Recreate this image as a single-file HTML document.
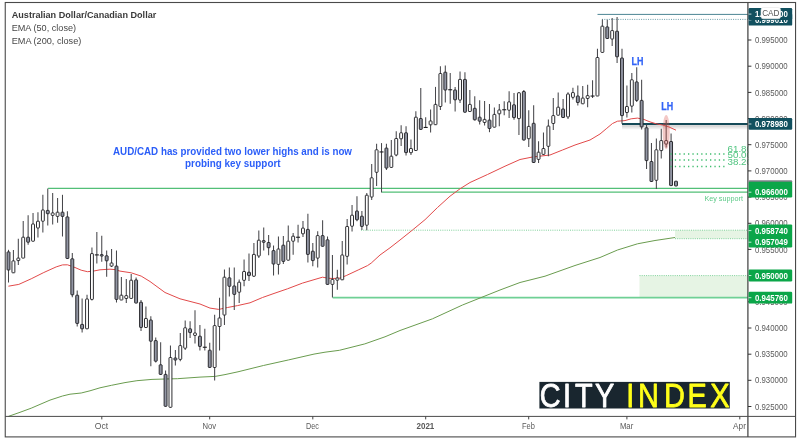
<!DOCTYPE html>
<html lang="en"><head><meta charset="utf-8"><title>AUD/CAD chart</title>
<style>html,body{margin:0;padding:0;background:#fff;}body{width:800px;height:442px;overflow:hidden;}svg{display:block;font-family:"Liberation Sans", Arial, sans-serif;}</style>
</head><body>
<svg width="800" height="442" viewBox="0 0 800 442">
<rect width="800" height="442" fill="#fff"/>
<g id="zones">
<rect x="675" y="230.2" width="73" height="8.5" fill="#e6f4e4"/>
<rect x="639.5" y="275.6" width="108.5" height="21.5" fill="#e6f4e4"/>
<line x1="361" y1="230.2" x2="748" y2="230.2" stroke="#7fd09a" stroke-width="1" stroke-dasharray="1 1.2"/>
<line x1="675" y1="238.7" x2="748" y2="238.7" stroke="#7fd09a" stroke-width="1" stroke-dasharray="1 1.2"/>
<line x1="639.5" y1="275.6" x2="748" y2="275.6" stroke="#7fd09a" stroke-width="1" stroke-dasharray="1 1.2"/>
</g>
<g id="support" fill="none">
<line x1="48.1" y1="188.4" x2="748" y2="188.4" stroke="#52bf77" stroke-width="1.25"/>
<line x1="381.9" y1="192" x2="748" y2="192" stroke="#52bf77" stroke-width="1.25"/>
<line x1="332.7" y1="297.6" x2="748" y2="297.6" stroke="#6fd095" stroke-width="1.6"/>
</g>
<g id="teal">
<line x1="597.5" y1="14.4" x2="748" y2="14.4" stroke="#4c8593" stroke-width="1"/>
<line x1="602" y1="19.4" x2="748" y2="19.4" stroke="#5a909d" stroke-width="0.9" stroke-dasharray="1 1.3"/>
<rect x="622" y="125" width="126" height="4.2" fill="#000" opacity="0.06"/>
<rect x="622" y="125" width="126" height="2.4" fill="#000" opacity="0.09"/>
<line x1="622" y1="124" x2="748" y2="124" stroke="#154a58" stroke-width="2.1"/>
</g>
<path d="M8.4 416.4 L20.0 412.3 L31.2 408.2 L40.0 404.4 L50.0 400.1 L62.5 396.0 L70.0 394.2 L81.2 393.0 L90.0 390.8 L100.0 387.8 L111.5 385.3 L125.0 382.6 L136.9 380.7 L152.0 379.4 L165.0 379.0 L177.4 378.7 L190.0 377.8 L200.0 377.1 L215.2 376.4 L225.0 374.6 L238.0 371.8 L263.4 365.5 L288.7 359.9 L314.0 354.1 L325.0 352.2 L339.4 350.3 L364.8 343.9 L385.0 336.8 L400.0 330.5 L432.5 318.8 L462.5 305.0 L480.0 298.0 L500.0 290.0 L520.0 282.5 L545.0 276.2 L575.0 265.5 L600.0 257.5 L617.5 250.0 L637.5 243.8 L655.0 240.5 L675.0 237.5" fill="none" stroke="#6a9c4f" stroke-width="1" stroke-linejoin="round"/>
<path d="M8.4 286.2 L18.8 284.4 L31.2 278.8 L43.8 272.5 L56.2 266.9 L62.5 264.9 L67.5 264.8 L75.0 267.5 L81.2 270.2 L87.5 271.7 L93.8 271.0 L100.0 269.8 L110.0 269.2 L115.0 269.6 L120.0 271.1 L131.2 272.8 L141.2 276.1 L150.0 281.5 L165.0 292.5 L180.0 298.8 L200.0 304.0 L210.0 308.1 L218.8 309.4 L227.5 307.5 L237.5 305.6 L250.0 302.8 L262.5 297.5 L275.0 293.1 L287.5 288.8 L302.5 283.1 L315.0 279.4 L322.5 277.2 L328.0 278.2 L332.5 278.5 L340.0 278.1 L346.2 275.6 L358.8 269.7 L367.5 265.6 L371.2 263.1 L380.0 255.0 L390.0 247.8 L400.0 240.0 L412.5 230.0 L425.0 219.7 L437.5 207.5 L450.0 196.2 L460.0 188.8 L470.0 182.5 L487.5 174.5 L505.0 166.2 L520.0 159.5 L532.5 157.0 L550.0 155.0 L562.5 150.0 L575.0 145.0 L590.0 140.0 L600.0 134.0 L606.2 128.8 L612.5 123.5 L617.5 121.2 L625.0 120.6 L631.2 118.8 L637.5 118.1 L643.8 119.4 L650.0 121.9 L656.2 123.8 L662.5 125.0 L668.8 126.9 L676.0 130.2" fill="none" stroke="#e24a4a" stroke-width="1" stroke-linejoin="round"/>
<g id="candles">
<line x1="8.50" y1="249.8" x2="8.50" y2="282.5" stroke="#47474b" stroke-width="1.05"/>
<rect x="7.05" y="251.9" width="2.9" height="18.1" rx="0.5" fill="#9296a4" stroke="#222226" stroke-width="0.95"/>
<line x1="13.41" y1="250.0" x2="13.41" y2="272.8" stroke="#47474b" stroke-width="1.05"/>
<rect x="11.96" y="260.9" width="2.9" height="11.9" rx="0.5" fill="#fff" stroke="#222226" stroke-width="0.95"/>
<line x1="18.32" y1="238.8" x2="18.32" y2="265.0" stroke="#47474b" stroke-width="1.05"/>
<rect x="16.87" y="258.1" width="2.9" height="2.5" rx="0.5" fill="#fff" stroke="#222226" stroke-width="0.95"/>
<line x1="23.22" y1="221.0" x2="23.22" y2="258.1" stroke="#47474b" stroke-width="1.05"/>
<rect x="21.77" y="237.2" width="2.9" height="20.9" rx="0.5" fill="#fff" stroke="#222226" stroke-width="0.95"/>
<line x1="28.13" y1="215.2" x2="28.13" y2="244.8" stroke="#47474b" stroke-width="1.05"/>
<rect x="26.68" y="237.2" width="2.9" height="5.0" rx="0.5" fill="#9296a4" stroke="#222226" stroke-width="0.95"/>
<line x1="33.04" y1="213.0" x2="33.04" y2="241.2" stroke="#47474b" stroke-width="1.05"/>
<rect x="31.59" y="224.0" width="2.9" height="17.2" rx="0.5" fill="#fff" stroke="#222226" stroke-width="0.95"/>
<line x1="37.95" y1="212.2" x2="37.95" y2="237.5" stroke="#47474b" stroke-width="1.05"/>
<rect x="36.50" y="221.2" width="2.9" height="6.8" rx="0.5" fill="#fff" stroke="#222226" stroke-width="0.95"/>
<line x1="42.86" y1="194.8" x2="42.86" y2="232.5" stroke="#47474b" stroke-width="1.05"/>
<rect x="41.41" y="210.0" width="2.9" height="11.2" rx="0.5" fill="#fff" stroke="#222226" stroke-width="0.95"/>
<line x1="47.76" y1="188.5" x2="47.76" y2="225.6" stroke="#47474b" stroke-width="1.05"/>
<rect x="46.31" y="210.4" width="2.9" height="3.3" rx="0.5" fill="#9296a4" stroke="#222226" stroke-width="0.95"/>
<line x1="52.67" y1="193.1" x2="52.67" y2="224.4" stroke="#47474b" stroke-width="1.05"/>
<rect x="51.22" y="212.9" width="2.9" height="2.5" rx="0.5" fill="#fff" stroke="#222226" stroke-width="0.95"/>
<line x1="57.58" y1="198.1" x2="57.58" y2="222.8" stroke="#47474b" stroke-width="1.05"/>
<rect x="56.13" y="212.2" width="2.9" height="4.2" rx="0.5" fill="#fff" stroke="#222226" stroke-width="0.95"/>
<line x1="62.49" y1="194.8" x2="62.49" y2="236.5" stroke="#47474b" stroke-width="1.05"/>
<rect x="61.04" y="212.2" width="2.9" height="4.2" rx="0.5" fill="#9296a4" stroke="#222226" stroke-width="0.95"/>
<line x1="67.40" y1="211.2" x2="67.40" y2="258.5" stroke="#47474b" stroke-width="1.05"/>
<rect x="65.95" y="216.9" width="2.9" height="41.6" rx="0.5" fill="#9296a4" stroke="#222226" stroke-width="0.95"/>
<line x1="72.30" y1="253.1" x2="72.30" y2="297.2" stroke="#47474b" stroke-width="1.05"/>
<rect x="70.85" y="258.8" width="2.9" height="36.0" rx="0.5" fill="#9296a4" stroke="#222226" stroke-width="0.95"/>
<line x1="77.21" y1="290.6" x2="77.21" y2="326.5" stroke="#47474b" stroke-width="1.05"/>
<rect x="75.76" y="295.2" width="2.9" height="28.2" rx="0.5" fill="#9296a4" stroke="#222226" stroke-width="0.95"/>
<line x1="82.12" y1="298.5" x2="82.12" y2="332.5" stroke="#47474b" stroke-width="1.05"/>
<rect x="80.67" y="324.4" width="2.9" height="4.4" rx="0.5" fill="#9296a4" stroke="#222226" stroke-width="0.95"/>
<line x1="87.03" y1="294.8" x2="87.03" y2="328.8" stroke="#47474b" stroke-width="1.05"/>
<rect x="85.58" y="299.0" width="2.9" height="29.8" rx="0.5" fill="#fff" stroke="#222226" stroke-width="0.95"/>
<line x1="91.94" y1="247.4" x2="91.94" y2="300.6" stroke="#47474b" stroke-width="1.05"/>
<rect x="90.49" y="253.6" width="2.9" height="45.8" rx="0.5" fill="#fff" stroke="#222226" stroke-width="0.95"/>
<line x1="96.84" y1="232.0" x2="96.84" y2="263.6" stroke="#47474b" stroke-width="1.05"/>
<rect x="94.84" y="254.35" width="4.0" height="1.1" fill="#1c1c20"/>
<line x1="101.75" y1="235.8" x2="101.75" y2="261.8" stroke="#47474b" stroke-width="1.05"/>
<rect x="100.30" y="254.6" width="2.9" height="1.4" rx="0.5" fill="#9296a4" stroke="#222226" stroke-width="0.95"/>
<line x1="106.66" y1="250.5" x2="106.66" y2="276.8" stroke="#47474b" stroke-width="1.05"/>
<rect x="105.21" y="255.8" width="2.9" height="5.0" rx="0.5" fill="#9296a4" stroke="#222226" stroke-width="0.95"/>
<line x1="111.57" y1="249.0" x2="111.57" y2="267.0" stroke="#47474b" stroke-width="1.05"/>
<rect x="110.12" y="263.0" width="2.9" height="3.1" rx="0.5" fill="#fff" stroke="#222226" stroke-width="0.95"/>
<line x1="116.48" y1="250.5" x2="116.48" y2="302.5" stroke="#47474b" stroke-width="1.05"/>
<rect x="115.03" y="266.1" width="2.9" height="33.3" rx="0.5" fill="#9296a4" stroke="#222226" stroke-width="0.95"/>
<line x1="121.38" y1="277.0" x2="121.38" y2="300.0" stroke="#47474b" stroke-width="1.05"/>
<rect x="119.93" y="295.2" width="2.9" height="4.8" rx="0.5" fill="#fff" stroke="#222226" stroke-width="0.95"/>
<line x1="126.29" y1="279.0" x2="126.29" y2="303.0" stroke="#47474b" stroke-width="1.05"/>
<rect x="124.84" y="295.6" width="2.9" height="2.9" rx="0.5" fill="#fff" stroke="#222226" stroke-width="0.95"/>
<line x1="131.20" y1="274.0" x2="131.20" y2="298.5" stroke="#47474b" stroke-width="1.05"/>
<rect x="129.75" y="280.2" width="2.9" height="18.2" rx="0.5" fill="#fff" stroke="#222226" stroke-width="0.95"/>
<line x1="136.11" y1="277.4" x2="136.11" y2="303.1" stroke="#47474b" stroke-width="1.05"/>
<rect x="134.66" y="279.9" width="2.9" height="23.2" rx="0.5" fill="#9296a4" stroke="#222226" stroke-width="0.95"/>
<line x1="141.02" y1="300.0" x2="141.02" y2="331.0" stroke="#47474b" stroke-width="1.05"/>
<rect x="139.57" y="302.2" width="2.9" height="25.2" rx="0.5" fill="#9296a4" stroke="#222226" stroke-width="0.95"/>
<line x1="145.92" y1="306.5" x2="145.92" y2="327.5" stroke="#47474b" stroke-width="1.05"/>
<rect x="144.47" y="318.5" width="2.9" height="9.0" rx="0.5" fill="#fff" stroke="#222226" stroke-width="0.95"/>
<line x1="150.83" y1="316.2" x2="150.83" y2="366.2" stroke="#47474b" stroke-width="1.05"/>
<rect x="149.38" y="320.0" width="2.9" height="21.2" rx="0.5" fill="#9296a4" stroke="#222226" stroke-width="0.95"/>
<line x1="155.74" y1="337.5" x2="155.74" y2="362.5" stroke="#47474b" stroke-width="1.05"/>
<rect x="154.29" y="340.6" width="2.9" height="20.6" rx="0.5" fill="#9296a4" stroke="#222226" stroke-width="0.95"/>
<line x1="160.65" y1="342.2" x2="160.65" y2="375.0" stroke="#47474b" stroke-width="1.05"/>
<rect x="159.20" y="364.8" width="2.9" height="9.6" rx="0.5" fill="#9296a4" stroke="#222226" stroke-width="0.95"/>
<line x1="165.56" y1="370.6" x2="165.56" y2="406.5" stroke="#47474b" stroke-width="1.05"/>
<rect x="164.11" y="374.4" width="2.9" height="31.9" rx="0.5" fill="#9296a4" stroke="#222226" stroke-width="0.95"/>
<line x1="170.46" y1="345.6" x2="170.46" y2="407.5" stroke="#47474b" stroke-width="1.05"/>
<rect x="169.01" y="357.5" width="2.9" height="49.8" rx="0.5" fill="#fff" stroke="#222226" stroke-width="0.95"/>
<line x1="175.37" y1="350.0" x2="175.37" y2="365.6" stroke="#47474b" stroke-width="1.05"/>
<rect x="173.92" y="358.0" width="2.9" height="2.0" rx="0.5" fill="#9296a4" stroke="#222226" stroke-width="0.95"/>
<line x1="180.28" y1="333.0" x2="180.28" y2="361.2" stroke="#47474b" stroke-width="1.05"/>
<rect x="178.83" y="345.6" width="2.9" height="13.8" rx="0.5" fill="#fff" stroke="#222226" stroke-width="0.95"/>
<line x1="185.19" y1="320.6" x2="185.19" y2="350.0" stroke="#47474b" stroke-width="1.05"/>
<rect x="183.74" y="327.8" width="2.9" height="20.4" rx="0.5" fill="#fff" stroke="#222226" stroke-width="0.95"/>
<line x1="190.10" y1="321.2" x2="190.10" y2="338.0" stroke="#47474b" stroke-width="1.05"/>
<rect x="188.65" y="328.8" width="2.9" height="3.8" rx="0.5" fill="#9296a4" stroke="#222226" stroke-width="0.95"/>
<line x1="195.00" y1="310.2" x2="195.00" y2="343.5" stroke="#47474b" stroke-width="1.05"/>
<rect x="193.55" y="333.0" width="2.9" height="2.4" rx="0.5" fill="#fff" stroke="#222226" stroke-width="0.95"/>
<line x1="199.91" y1="325.0" x2="199.91" y2="350.6" stroke="#47474b" stroke-width="1.05"/>
<rect x="198.46" y="336.2" width="2.9" height="10.2" rx="0.5" fill="#9296a4" stroke="#222226" stroke-width="0.95"/>
<line x1="204.82" y1="328.8" x2="204.82" y2="350.6" stroke="#47474b" stroke-width="1.05"/>
<rect x="202.82" y="346.70" width="4.0" height="1.1" fill="#1c1c20"/>
<line x1="209.73" y1="342.8" x2="209.73" y2="368.0" stroke="#47474b" stroke-width="1.05"/>
<rect x="208.28" y="350.2" width="2.9" height="17.2" rx="0.5" fill="#9296a4" stroke="#222226" stroke-width="0.95"/>
<line x1="214.64" y1="314.8" x2="214.64" y2="380.6" stroke="#47474b" stroke-width="1.05"/>
<rect x="213.19" y="325.6" width="2.9" height="41.9" rx="0.5" fill="#fff" stroke="#222226" stroke-width="0.95"/>
<line x1="219.54" y1="297.8" x2="219.54" y2="350.6" stroke="#47474b" stroke-width="1.05"/>
<rect x="218.09" y="318.0" width="2.9" height="8.5" rx="0.5" fill="#fff" stroke="#222226" stroke-width="0.95"/>
<line x1="224.45" y1="269.4" x2="224.45" y2="325.0" stroke="#47474b" stroke-width="1.05"/>
<rect x="223.00" y="277.2" width="2.9" height="37.8" rx="0.5" fill="#fff" stroke="#222226" stroke-width="0.95"/>
<line x1="229.36" y1="267.5" x2="229.36" y2="296.5" stroke="#47474b" stroke-width="1.05"/>
<rect x="227.91" y="277.8" width="2.9" height="8.5" rx="0.5" fill="#9296a4" stroke="#222226" stroke-width="0.95"/>
<line x1="234.27" y1="267.5" x2="234.27" y2="310.0" stroke="#47474b" stroke-width="1.05"/>
<rect x="232.82" y="286.0" width="2.9" height="8.4" rx="0.5" fill="#9296a4" stroke="#222226" stroke-width="0.95"/>
<line x1="239.18" y1="279.4" x2="239.18" y2="303.0" stroke="#47474b" stroke-width="1.05"/>
<rect x="237.73" y="282.2" width="2.9" height="10.0" rx="0.5" fill="#fff" stroke="#222226" stroke-width="0.95"/>
<line x1="244.08" y1="259.4" x2="244.08" y2="286.2" stroke="#47474b" stroke-width="1.05"/>
<rect x="242.63" y="271.5" width="2.9" height="8.8" rx="0.5" fill="#fff" stroke="#222226" stroke-width="0.95"/>
<line x1="248.99" y1="253.5" x2="248.99" y2="281.0" stroke="#47474b" stroke-width="1.05"/>
<rect x="247.54" y="272.2" width="2.9" height="3.4" rx="0.5" fill="#9296a4" stroke="#222226" stroke-width="0.95"/>
<line x1="253.90" y1="243.1" x2="253.90" y2="277.0" stroke="#47474b" stroke-width="1.05"/>
<rect x="252.45" y="254.4" width="2.9" height="21.8" rx="0.5" fill="#fff" stroke="#222226" stroke-width="0.95"/>
<line x1="258.81" y1="230.6" x2="258.81" y2="258.0" stroke="#47474b" stroke-width="1.05"/>
<rect x="257.36" y="240.2" width="2.9" height="15.8" rx="0.5" fill="#fff" stroke="#222226" stroke-width="0.95"/>
<line x1="263.72" y1="227.5" x2="263.72" y2="250.6" stroke="#47474b" stroke-width="1.05"/>
<rect x="262.27" y="240.6" width="2.9" height="1.7" rx="0.5" fill="#9296a4" stroke="#222226" stroke-width="0.95"/>
<line x1="268.62" y1="235.0" x2="268.62" y2="255.2" stroke="#47474b" stroke-width="1.05"/>
<rect x="267.17" y="242.5" width="2.9" height="5.2" rx="0.5" fill="#9296a4" stroke="#222226" stroke-width="0.95"/>
<line x1="273.53" y1="245.6" x2="273.53" y2="275.6" stroke="#47474b" stroke-width="1.05"/>
<rect x="272.08" y="250.6" width="2.9" height="13.4" rx="0.5" fill="#9296a4" stroke="#222226" stroke-width="0.95"/>
<line x1="278.44" y1="236.5" x2="278.44" y2="274.4" stroke="#47474b" stroke-width="1.05"/>
<rect x="276.99" y="249.0" width="2.9" height="15.4" rx="0.5" fill="#fff" stroke="#222226" stroke-width="0.95"/>
<line x1="283.35" y1="236.0" x2="283.35" y2="264.0" stroke="#47474b" stroke-width="1.05"/>
<rect x="281.90" y="245.2" width="2.9" height="16.2" rx="0.5" fill="#9296a4" stroke="#222226" stroke-width="0.95"/>
<line x1="288.26" y1="225.6" x2="288.26" y2="260.2" stroke="#47474b" stroke-width="1.05"/>
<rect x="286.81" y="241.2" width="2.9" height="19.0" rx="0.5" fill="#fff" stroke="#222226" stroke-width="0.95"/>
<line x1="293.16" y1="233.1" x2="293.16" y2="254.8" stroke="#47474b" stroke-width="1.05"/>
<rect x="291.71" y="236.2" width="2.9" height="5.0" rx="0.5" fill="#fff" stroke="#222226" stroke-width="0.95"/>
<line x1="298.07" y1="224.8" x2="298.07" y2="242.5" stroke="#47474b" stroke-width="1.05"/>
<rect x="296.07" y="236.70" width="4.0" height="1.1" fill="#1c1c20"/>
<line x1="302.98" y1="221.0" x2="302.98" y2="236.9" stroke="#47474b" stroke-width="1.05"/>
<rect x="301.53" y="228.1" width="2.9" height="5.7" rx="0.5" fill="#fff" stroke="#222226" stroke-width="0.95"/>
<line x1="307.89" y1="213.8" x2="307.89" y2="262.5" stroke="#47474b" stroke-width="1.05"/>
<rect x="306.44" y="229.4" width="2.9" height="25.0" rx="0.5" fill="#9296a4" stroke="#222226" stroke-width="0.95"/>
<line x1="312.80" y1="243.1" x2="312.80" y2="266.2" stroke="#47474b" stroke-width="1.05"/>
<rect x="311.35" y="251.2" width="2.9" height="9.4" rx="0.5" fill="#9296a4" stroke="#222226" stroke-width="0.95"/>
<line x1="317.70" y1="231.2" x2="317.70" y2="267.5" stroke="#47474b" stroke-width="1.05"/>
<rect x="316.25" y="235.6" width="2.9" height="22.5" rx="0.5" fill="#fff" stroke="#222226" stroke-width="0.95"/>
<line x1="322.61" y1="220.2" x2="322.61" y2="246.2" stroke="#47474b" stroke-width="1.05"/>
<rect x="321.16" y="235.6" width="2.9" height="10.7" rx="0.5" fill="#9296a4" stroke="#222226" stroke-width="0.95"/>
<line x1="327.52" y1="236.5" x2="327.52" y2="284.4" stroke="#47474b" stroke-width="1.05"/>
<rect x="326.07" y="239.8" width="2.9" height="44.6" rx="0.5" fill="#9296a4" stroke="#222226" stroke-width="0.95"/>
<line x1="332.43" y1="255.0" x2="332.43" y2="297.5" stroke="#47474b" stroke-width="1.05"/>
<rect x="330.98" y="279.4" width="2.9" height="5.0" rx="0.5" fill="#fff" stroke="#222226" stroke-width="0.95"/>
<line x1="337.34" y1="269.8" x2="337.34" y2="289.8" stroke="#47474b" stroke-width="1.05"/>
<rect x="335.89" y="278.0" width="2.9" height="2.2" rx="0.5" fill="#fff" stroke="#222226" stroke-width="0.95"/>
<line x1="342.24" y1="241.0" x2="342.24" y2="279.8" stroke="#47474b" stroke-width="1.05"/>
<rect x="340.79" y="255.0" width="2.9" height="24.8" rx="0.5" fill="#fff" stroke="#222226" stroke-width="0.95"/>
<line x1="347.15" y1="219.0" x2="347.15" y2="264.4" stroke="#47474b" stroke-width="1.05"/>
<rect x="345.70" y="226.5" width="2.9" height="29.8" rx="0.5" fill="#fff" stroke="#222226" stroke-width="0.95"/>
<line x1="352.06" y1="205.0" x2="352.06" y2="231.5" stroke="#47474b" stroke-width="1.05"/>
<rect x="350.61" y="215.2" width="2.9" height="11.0" rx="0.5" fill="#fff" stroke="#222226" stroke-width="0.95"/>
<line x1="356.97" y1="196.2" x2="356.97" y2="221.2" stroke="#47474b" stroke-width="1.05"/>
<rect x="355.52" y="211.0" width="2.9" height="8.8" rx="0.5" fill="#9296a4" stroke="#222226" stroke-width="0.95"/>
<line x1="361.88" y1="211.0" x2="361.88" y2="230.0" stroke="#47474b" stroke-width="1.05"/>
<rect x="360.43" y="216.2" width="2.9" height="10.2" rx="0.5" fill="#9296a4" stroke="#222226" stroke-width="0.95"/>
<line x1="366.78" y1="193.1" x2="366.78" y2="230.2" stroke="#47474b" stroke-width="1.05"/>
<rect x="365.33" y="195.2" width="2.9" height="30.0" rx="0.5" fill="#fff" stroke="#222226" stroke-width="0.95"/>
<line x1="371.69" y1="164.0" x2="371.69" y2="200.0" stroke="#47474b" stroke-width="1.05"/>
<rect x="370.24" y="177.8" width="2.9" height="19.2" rx="0.5" fill="#fff" stroke="#222226" stroke-width="0.95"/>
<line x1="376.60" y1="143.8" x2="376.60" y2="186.0" stroke="#47474b" stroke-width="1.05"/>
<rect x="375.15" y="149.8" width="2.9" height="22.5" rx="0.5" fill="#fff" stroke="#222226" stroke-width="0.95"/>
<line x1="381.51" y1="143.1" x2="381.51" y2="192.5" stroke="#47474b" stroke-width="1.05"/>
<rect x="379.51" y="151.40" width="4.0" height="1.1" fill="#1c1c20"/>
<line x1="386.42" y1="143.8" x2="386.42" y2="170.0" stroke="#47474b" stroke-width="1.05"/>
<rect x="384.97" y="148.1" width="2.9" height="20.0" rx="0.5" fill="#9296a4" stroke="#222226" stroke-width="0.95"/>
<line x1="391.32" y1="140.0" x2="391.32" y2="167.5" stroke="#47474b" stroke-width="1.05"/>
<rect x="389.87" y="156.2" width="2.9" height="11.2" rx="0.5" fill="#fff" stroke="#222226" stroke-width="0.95"/>
<line x1="396.23" y1="131.2" x2="396.23" y2="156.2" stroke="#47474b" stroke-width="1.05"/>
<rect x="394.78" y="138.5" width="2.9" height="16.5" rx="0.5" fill="#fff" stroke="#222226" stroke-width="0.95"/>
<line x1="401.14" y1="125.2" x2="401.14" y2="146.0" stroke="#47474b" stroke-width="1.05"/>
<rect x="399.69" y="132.8" width="2.9" height="6.0" rx="0.5" fill="#fff" stroke="#222226" stroke-width="0.95"/>
<line x1="406.05" y1="126.2" x2="406.05" y2="155.6" stroke="#47474b" stroke-width="1.05"/>
<rect x="404.60" y="132.8" width="2.9" height="19.8" rx="0.5" fill="#9296a4" stroke="#222226" stroke-width="0.95"/>
<line x1="410.96" y1="139.4" x2="410.96" y2="155.0" stroke="#47474b" stroke-width="1.05"/>
<rect x="409.51" y="148.5" width="2.9" height="4.2" rx="0.5" fill="#fff" stroke="#222226" stroke-width="0.95"/>
<line x1="415.86" y1="111.2" x2="415.86" y2="150.6" stroke="#47474b" stroke-width="1.05"/>
<rect x="414.41" y="117.2" width="2.9" height="33.3" rx="0.5" fill="#fff" stroke="#222226" stroke-width="0.95"/>
<line x1="420.77" y1="88.1" x2="420.77" y2="129.4" stroke="#47474b" stroke-width="1.05"/>
<rect x="419.32" y="118.5" width="2.9" height="10.9" rx="0.5" fill="#9296a4" stroke="#222226" stroke-width="0.95"/>
<line x1="425.68" y1="117.2" x2="425.68" y2="127.8" stroke="#47474b" stroke-width="1.05"/>
<rect x="423.68" y="126.90" width="4.0" height="1.1" fill="#1c1c20"/>
<line x1="430.59" y1="109.4" x2="430.59" y2="132.5" stroke="#47474b" stroke-width="1.05"/>
<rect x="429.14" y="121.0" width="2.9" height="3.8" rx="0.5" fill="#fff" stroke="#222226" stroke-width="0.95"/>
<line x1="435.50" y1="86.9" x2="435.50" y2="124.8" stroke="#47474b" stroke-width="1.05"/>
<rect x="434.05" y="104.4" width="2.9" height="20.3" rx="0.5" fill="#fff" stroke="#222226" stroke-width="0.95"/>
<line x1="440.40" y1="66.2" x2="440.40" y2="110.0" stroke="#47474b" stroke-width="1.05"/>
<rect x="438.95" y="73.5" width="2.9" height="33.0" rx="0.5" fill="#fff" stroke="#222226" stroke-width="0.95"/>
<line x1="445.31" y1="65.6" x2="445.31" y2="102.5" stroke="#47474b" stroke-width="1.05"/>
<rect x="443.86" y="72.2" width="2.9" height="17.8" rx="0.5" fill="#9296a4" stroke="#222226" stroke-width="0.95"/>
<line x1="450.22" y1="73.1" x2="450.22" y2="103.8" stroke="#47474b" stroke-width="1.05"/>
<rect x="448.22" y="89.20" width="4.0" height="1.1" fill="#1c1c20"/>
<line x1="455.13" y1="86.9" x2="455.13" y2="111.5" stroke="#47474b" stroke-width="1.05"/>
<rect x="453.68" y="90.0" width="2.9" height="9.8" rx="0.5" fill="#9296a4" stroke="#222226" stroke-width="0.95"/>
<line x1="460.04" y1="71.5" x2="460.04" y2="103.1" stroke="#47474b" stroke-width="1.05"/>
<rect x="458.59" y="79.4" width="2.9" height="20.6" rx="0.5" fill="#fff" stroke="#222226" stroke-width="0.95"/>
<line x1="464.94" y1="72.2" x2="464.94" y2="112.5" stroke="#47474b" stroke-width="1.05"/>
<rect x="463.49" y="79.4" width="2.9" height="32.8" rx="0.5" fill="#9296a4" stroke="#222226" stroke-width="0.95"/>
<line x1="469.85" y1="90.0" x2="469.85" y2="111.5" stroke="#47474b" stroke-width="1.05"/>
<rect x="468.40" y="104.4" width="2.9" height="7.1" rx="0.5" fill="#fff" stroke="#222226" stroke-width="0.95"/>
<line x1="474.76" y1="96.2" x2="474.76" y2="120.5" stroke="#47474b" stroke-width="1.05"/>
<rect x="473.31" y="108.3" width="2.9" height="11.5" rx="0.5" fill="#9296a4" stroke="#222226" stroke-width="0.95"/>
<line x1="479.67" y1="100.2" x2="479.67" y2="124.4" stroke="#47474b" stroke-width="1.05"/>
<rect x="478.22" y="117.2" width="2.9" height="4.0" rx="0.5" fill="#9296a4" stroke="#222226" stroke-width="0.95"/>
<line x1="484.58" y1="101.1" x2="484.58" y2="125.6" stroke="#47474b" stroke-width="1.05"/>
<rect x="483.13" y="119.4" width="2.9" height="3.1" rx="0.5" fill="#fff" stroke="#222226" stroke-width="0.95"/>
<line x1="489.48" y1="104.0" x2="489.48" y2="132.2" stroke="#47474b" stroke-width="1.05"/>
<rect x="488.03" y="120.1" width="2.9" height="8.4" rx="0.5" fill="#9296a4" stroke="#222226" stroke-width="0.95"/>
<line x1="494.39" y1="107.6" x2="494.39" y2="127.2" stroke="#47474b" stroke-width="1.05"/>
<rect x="492.94" y="114.4" width="2.9" height="12.8" rx="0.5" fill="#fff" stroke="#222226" stroke-width="0.95"/>
<line x1="499.30" y1="104.0" x2="499.30" y2="126.2" stroke="#47474b" stroke-width="1.05"/>
<rect x="497.85" y="110.0" width="2.9" height="3.8" rx="0.5" fill="#fff" stroke="#222226" stroke-width="0.95"/>
<line x1="504.21" y1="101.2" x2="504.21" y2="115.2" stroke="#47474b" stroke-width="1.05"/>
<rect x="502.21" y="109.20" width="4.0" height="1.1" fill="#1c1c20"/>
<line x1="509.12" y1="91.2" x2="509.12" y2="118.1" stroke="#47474b" stroke-width="1.05"/>
<rect x="507.67" y="101.9" width="2.9" height="8.3" rx="0.5" fill="#fff" stroke="#222226" stroke-width="0.95"/>
<line x1="514.02" y1="93.1" x2="514.02" y2="119.8" stroke="#47474b" stroke-width="1.05"/>
<rect x="512.57" y="104.8" width="2.9" height="12.8" rx="0.5" fill="#9296a4" stroke="#222226" stroke-width="0.95"/>
<line x1="518.93" y1="92.0" x2="518.93" y2="135.0" stroke="#47474b" stroke-width="1.05"/>
<rect x="517.48" y="92.8" width="2.9" height="25.8" rx="0.5" fill="#fff" stroke="#222226" stroke-width="0.95"/>
<line x1="523.84" y1="90.0" x2="523.84" y2="140.5" stroke="#47474b" stroke-width="1.05"/>
<rect x="522.39" y="91.5" width="2.9" height="48.5" rx="0.5" fill="#9296a4" stroke="#222226" stroke-width="0.95"/>
<line x1="528.75" y1="110.2" x2="528.75" y2="146.9" stroke="#47474b" stroke-width="1.05"/>
<rect x="527.30" y="126.4" width="2.9" height="12.3" rx="0.5" fill="#fff" stroke="#222226" stroke-width="0.95"/>
<line x1="533.66" y1="105.2" x2="533.66" y2="163.0" stroke="#47474b" stroke-width="1.05"/>
<rect x="532.21" y="123.3" width="2.9" height="39.2" rx="0.5" fill="#9296a4" stroke="#222226" stroke-width="0.95"/>
<line x1="538.56" y1="141.2" x2="538.56" y2="163.0" stroke="#47474b" stroke-width="1.05"/>
<rect x="537.11" y="152.2" width="2.9" height="7.2" rx="0.5" fill="#fff" stroke="#222226" stroke-width="0.95"/>
<line x1="543.47" y1="132.5" x2="543.47" y2="154.4" stroke="#47474b" stroke-width="1.05"/>
<rect x="542.02" y="148.5" width="2.9" height="5.9" rx="0.5" fill="#fff" stroke="#222226" stroke-width="0.95"/>
<line x1="548.38" y1="119.4" x2="548.38" y2="156.2" stroke="#47474b" stroke-width="1.05"/>
<rect x="546.93" y="126.1" width="2.9" height="20.2" rx="0.5" fill="#fff" stroke="#222226" stroke-width="0.95"/>
<line x1="553.29" y1="98.1" x2="553.29" y2="130.0" stroke="#47474b" stroke-width="1.05"/>
<rect x="551.84" y="115.6" width="2.9" height="7.9" rx="0.5" fill="#fff" stroke="#222226" stroke-width="0.95"/>
<line x1="558.20" y1="92.5" x2="558.20" y2="115.2" stroke="#47474b" stroke-width="1.05"/>
<rect x="556.75" y="107.2" width="2.9" height="8.0" rx="0.5" fill="#fff" stroke="#222226" stroke-width="0.95"/>
<line x1="563.10" y1="99.0" x2="563.10" y2="118.0" stroke="#47474b" stroke-width="1.05"/>
<rect x="561.65" y="109.0" width="2.9" height="8.5" rx="0.5" fill="#9296a4" stroke="#222226" stroke-width="0.95"/>
<line x1="568.01" y1="92.2" x2="568.01" y2="119.0" stroke="#47474b" stroke-width="1.05"/>
<rect x="566.56" y="94.0" width="2.9" height="22.9" rx="0.5" fill="#fff" stroke="#222226" stroke-width="0.95"/>
<line x1="572.92" y1="87.8" x2="572.92" y2="99.4" stroke="#47474b" stroke-width="1.05"/>
<rect x="571.47" y="92.6" width="2.9" height="4.7" rx="0.5" fill="#fff" stroke="#222226" stroke-width="0.95"/>
<line x1="577.83" y1="85.4" x2="577.83" y2="105.6" stroke="#47474b" stroke-width="1.05"/>
<rect x="576.38" y="96.0" width="2.9" height="6.5" rx="0.5" fill="#9296a4" stroke="#222226" stroke-width="0.95"/>
<line x1="582.74" y1="86.0" x2="582.74" y2="103.8" stroke="#47474b" stroke-width="1.05"/>
<rect x="581.29" y="98.1" width="2.9" height="5.7" rx="0.5" fill="#fff" stroke="#222226" stroke-width="0.95"/>
<line x1="587.64" y1="84.8" x2="587.64" y2="107.2" stroke="#47474b" stroke-width="1.05"/>
<rect x="586.19" y="95.6" width="2.9" height="2.9" rx="0.5" fill="#fff" stroke="#222226" stroke-width="0.95"/>
<line x1="592.55" y1="80.2" x2="592.55" y2="98.1" stroke="#47474b" stroke-width="1.05"/>
<rect x="590.55" y="95.50" width="4.0" height="1.1" fill="#1c1c20"/>
<line x1="597.46" y1="48.8" x2="597.46" y2="96.0" stroke="#47474b" stroke-width="1.05"/>
<rect x="596.01" y="57.5" width="2.9" height="38.5" rx="0.5" fill="#fff" stroke="#222226" stroke-width="0.95"/>
<line x1="602.37" y1="19.4" x2="602.37" y2="52.5" stroke="#47474b" stroke-width="1.05"/>
<rect x="600.92" y="26.2" width="2.9" height="26.2" rx="0.5" fill="#fff" stroke="#222226" stroke-width="0.95"/>
<line x1="607.28" y1="19.8" x2="607.28" y2="38.5" stroke="#47474b" stroke-width="1.05"/>
<rect x="605.83" y="26.9" width="2.9" height="11.6" rx="0.5" fill="#9296a4" stroke="#222226" stroke-width="0.95"/>
<line x1="612.18" y1="18.1" x2="612.18" y2="46.0" stroke="#47474b" stroke-width="1.05"/>
<rect x="610.73" y="30.6" width="2.9" height="8.4" rx="0.5" fill="#fff" stroke="#222226" stroke-width="0.95"/>
<line x1="617.09" y1="16.9" x2="617.09" y2="63.1" stroke="#47474b" stroke-width="1.05"/>
<rect x="615.64" y="31.2" width="2.9" height="25.6" rx="0.5" fill="#9296a4" stroke="#222226" stroke-width="0.95"/>
<line x1="622.00" y1="48.8" x2="622.00" y2="123.8" stroke="#47474b" stroke-width="1.05"/>
<rect x="620.55" y="58.0" width="2.9" height="57.6" rx="0.5" fill="#9296a4" stroke="#222226" stroke-width="0.95"/>
<line x1="626.91" y1="85.6" x2="626.91" y2="117.5" stroke="#47474b" stroke-width="1.05"/>
<rect x="625.46" y="106.5" width="2.9" height="6.0" rx="0.5" fill="#fff" stroke="#222226" stroke-width="0.95"/>
<line x1="631.82" y1="73.1" x2="631.82" y2="112.5" stroke="#47474b" stroke-width="1.05"/>
<rect x="630.37" y="79.8" width="2.9" height="26.3" rx="0.5" fill="#fff" stroke="#222226" stroke-width="0.95"/>
<line x1="636.72" y1="67.2" x2="636.72" y2="102.0" stroke="#47474b" stroke-width="1.05"/>
<rect x="635.27" y="81.9" width="2.9" height="18.5" rx="0.5" fill="#9296a4" stroke="#222226" stroke-width="0.95"/>
<line x1="641.63" y1="79.8" x2="641.63" y2="129.4" stroke="#47474b" stroke-width="1.05"/>
<rect x="640.18" y="100.4" width="2.9" height="26.5" rx="0.5" fill="#9296a4" stroke="#222226" stroke-width="0.95"/>
<line x1="646.54" y1="124.4" x2="646.54" y2="169.0" stroke="#47474b" stroke-width="1.05"/>
<rect x="645.09" y="127.8" width="2.9" height="32.8" rx="0.5" fill="#9296a4" stroke="#222226" stroke-width="0.95"/>
<line x1="651.45" y1="143.1" x2="651.45" y2="181.5" stroke="#47474b" stroke-width="1.05"/>
<rect x="650.00" y="161.5" width="2.9" height="20.0" rx="0.5" fill="#9296a4" stroke="#222226" stroke-width="0.95"/>
<line x1="656.36" y1="138.5" x2="656.36" y2="189.0" stroke="#47474b" stroke-width="1.05"/>
<rect x="654.91" y="149.8" width="2.9" height="30.5" rx="0.5" fill="#fff" stroke="#222226" stroke-width="0.95"/>
<line x1="661.26" y1="128.8" x2="661.26" y2="158.5" stroke="#47474b" stroke-width="1.05"/>
<rect x="659.81" y="140.6" width="2.9" height="10.0" rx="0.5" fill="#fff" stroke="#222226" stroke-width="0.95"/>
<line x1="666.17" y1="120.0" x2="666.17" y2="147.5" stroke="#47474b" stroke-width="1.05"/>
<rect x="664.72" y="140.6" width="2.9" height="3.4" rx="0.5" fill="#fff" stroke="#222226" stroke-width="0.95"/>
<line x1="671.08" y1="133.5" x2="671.08" y2="185.6" stroke="#47474b" stroke-width="1.05"/>
<rect x="669.63" y="141.5" width="2.9" height="44.1" rx="0.5" fill="#9296a4" stroke="#222226" stroke-width="0.95"/>
<line x1="675.99" y1="181.2" x2="675.99" y2="186.0" stroke="#47474b" stroke-width="1.05"/>
<rect x="674.54" y="181.2" width="2.9" height="4.8" rx="0.5" fill="#9296a4" stroke="#222226" stroke-width="0.95"/>
</g>
<g id="fib" stroke="#3fbd6e" stroke-width="1.3" stroke-dasharray="1.3 3.1">
<line x1="670.4" y1="154.0" x2="725.5" y2="154.0"/>
<line x1="670.4" y1="160.0" x2="725.5" y2="160.0"/>
<line x1="670.4" y1="166.5" x2="725.5" y2="166.5"/>
</g>
<g id="fibtxt" font-size="9.8" fill="#4fc47f">
<text x="727.5" y="152.2">61.80</text>
<text x="727.5" y="158.2">50.00</text>
<text x="727.5" y="164.6">38.20</text>
</g>
<ellipse cx="666.2" cy="132" rx="3.6" ry="17" fill="#d9534f" opacity="0.32"/>
<g id="legend" fill="#474747" font-size="9.9">
<text x="11.7" y="18.3" font-weight="bold" fill="#3a3a3a" textLength="144.6" lengthAdjust="spacingAndGlyphs">Australian Dollar/Canadian Dollar</text>
<text x="11.7" y="31" textLength="64.4" lengthAdjust="spacingAndGlyphs">EMA (50, close)</text>
<text x="11.7" y="44.2" textLength="69.6" lengthAdjust="spacingAndGlyphs">EMA (200, close)</text>
</g>
<g id="note" fill="#2b5ef8" font-size="10.2" font-weight="bold" text-anchor="middle">
<text x="232.5" y="154.7" textLength="239" lengthAdjust="spacingAndGlyphs">AUD/CAD has provided two lower highs and is now</text>
<text x="232.8" y="167.4" textLength="95.5" lengthAdjust="spacingAndGlyphs">probing key support</text>
</g>
<g id="lh" fill="#3163f7" font-size="10.1" font-weight="bold" stroke="#3163f7" stroke-width="0.25">
<text x="631.6" y="64.9" textLength="11.9" lengthAdjust="spacingAndGlyphs">LH</text>
<text x="661.2" y="109.5" textLength="11.9" lengthAdjust="spacingAndGlyphs">LH</text>
</g>
<text x="704.4" y="200.8" font-size="8" fill="#5cc987" textLength="38.6" lengthAdjust="spacingAndGlyphs">Key support</text>
<g id="logo">
<rect x="539.4" y="381.9" width="190.4" height="26.6" fill="#19262f"/>
<text transform="translate(0 407.3) scale(0.85 1)" x="635.04 662.39 676.45 700.07" y="0" font-size="34" fill="#fff" stroke="#fff" stroke-width="0.8" stroke-linejoin="round">CITY</text>
<text transform="translate(0 407.3) scale(0.85 1)" x="736.63 750.60 781.26 808.70 835.58" y="0" font-size="34" fill="#ffff19" stroke="#ffff19" stroke-width="0.8" stroke-linejoin="round">INDEX</text>
</g>
<g id="axes">
<rect x="748.4" y="3" width="47" height="434" fill="#fff"/>
<rect x="5.25" y="2.5" width="790.3" height="434.4" fill="none" stroke="#4a4a4a" stroke-width="1.1"/>
<line x1="747.9" y1="2.5" x2="747.9" y2="437" stroke="#4a4a4a" stroke-width="1.3"/>
<line x1="5.25" y1="416.4" x2="795.5" y2="416.4" stroke="#4a4a4a" stroke-width="1"/>
</g>
<g id="yticks" font-size="8.7" fill="#5a5a5a">
<line x1="748" y1="406.5" x2="751.4" y2="406.5" stroke="#333" stroke-width="1"/>
<text x="755" y="409.6" textLength="32.6" lengthAdjust="spacingAndGlyphs">0.925000</text>
<line x1="748" y1="380.3" x2="751.4" y2="380.3" stroke="#333" stroke-width="1"/>
<text x="755" y="383.4" textLength="32.6" lengthAdjust="spacingAndGlyphs">0.930000</text>
<line x1="748" y1="354.2" x2="751.4" y2="354.2" stroke="#333" stroke-width="1"/>
<text x="755" y="357.3" textLength="32.6" lengthAdjust="spacingAndGlyphs">0.935000</text>
<line x1="748" y1="328.0" x2="751.4" y2="328.0" stroke="#333" stroke-width="1"/>
<text x="755" y="331.1" textLength="32.6" lengthAdjust="spacingAndGlyphs">0.940000</text>
<line x1="748" y1="301.8" x2="751.4" y2="301.8" stroke="#333" stroke-width="1"/>
<text x="755" y="304.9" textLength="32.6" lengthAdjust="spacingAndGlyphs">0.945000</text>
<line x1="748" y1="275.6" x2="751.4" y2="275.6" stroke="#333" stroke-width="1"/>
<text x="755" y="278.7" textLength="32.6" lengthAdjust="spacingAndGlyphs">0.950000</text>
<line x1="748" y1="249.4" x2="751.4" y2="249.4" stroke="#333" stroke-width="1"/>
<text x="755" y="252.5" textLength="32.6" lengthAdjust="spacingAndGlyphs">0.955000</text>
<line x1="748" y1="223.3" x2="751.4" y2="223.3" stroke="#333" stroke-width="1"/>
<text x="755" y="226.4" textLength="32.6" lengthAdjust="spacingAndGlyphs">0.960000</text>
<line x1="748" y1="197.1" x2="751.4" y2="197.1" stroke="#333" stroke-width="1"/>
<text x="755" y="200.2" textLength="32.6" lengthAdjust="spacingAndGlyphs">0.965000</text>
<line x1="748" y1="170.9" x2="751.4" y2="170.9" stroke="#333" stroke-width="1"/>
<text x="755" y="174.0" textLength="32.6" lengthAdjust="spacingAndGlyphs">0.970000</text>
<line x1="748" y1="144.7" x2="751.4" y2="144.7" stroke="#333" stroke-width="1"/>
<text x="755" y="147.8" textLength="32.6" lengthAdjust="spacingAndGlyphs">0.975000</text>
<line x1="748" y1="118.5" x2="751.4" y2="118.5" stroke="#333" stroke-width="1"/>
<text x="755" y="121.6" textLength="32.6" lengthAdjust="spacingAndGlyphs">0.980000</text>
<line x1="748" y1="92.4" x2="751.4" y2="92.4" stroke="#333" stroke-width="1"/>
<text x="755" y="95.5" textLength="32.6" lengthAdjust="spacingAndGlyphs">0.985000</text>
<line x1="748" y1="66.2" x2="751.4" y2="66.2" stroke="#333" stroke-width="1"/>
<text x="755" y="69.3" textLength="32.6" lengthAdjust="spacingAndGlyphs">0.990000</text>
<line x1="748" y1="40.0" x2="751.4" y2="40.0" stroke="#333" stroke-width="1"/>
<text x="755" y="43.1" textLength="32.6" lengthAdjust="spacingAndGlyphs">0.995000</text>
</g>
<g id="plabels">
<rect x="748.6" y="13.6" width="43.6" height="12.0" rx="1.2" fill="#11505f"/>
<line x1="748.6" y1="19.9" x2="751.4" y2="19.9" stroke="#fff" stroke-width="0.9" opacity="0.85"/>
<text x="755" y="23.0" font-size="8.7" font-weight="bold" fill="#fff" textLength="32.8" lengthAdjust="spacingAndGlyphs">0.999010</text>
<rect x="748.6" y="8.1" width="43.6" height="11.8" rx="1.2" fill="#11505f"/>
<line x1="748.6" y1="14.1" x2="751.4" y2="14.1" stroke="#fff" stroke-width="0.9" opacity="0.85"/>
<text x="755" y="17.2" font-size="8.7" font-weight="bold" fill="#fff" textLength="32.8" lengthAdjust="spacingAndGlyphs">1.000000</text>
<rect x="761" y="7.5" width="19.6" height="11.3" rx="2.4" fill="#fff" stroke="#e6e6e6" stroke-width="0.6"/>
<text x="770.8" y="16.2" font-size="8.2" fill="#555" text-anchor="middle">CAD</text>
<rect x="748.6" y="118.1" width="43.6" height="11.7" rx="1.2" fill="#11505f"/>
<line x1="748.6" y1="124.0" x2="751.4" y2="124.0" stroke="#fff" stroke-width="0.9" opacity="0.85"/>
<text x="755" y="127.1" font-size="8.7" font-weight="bold" fill="#fff" textLength="32.8" lengthAdjust="spacingAndGlyphs">0.978980</text>
<rect x="748.6" y="180.3" width="43.6" height="3" rx="1" fill="#80808a"/>
<rect x="748.6" y="181.8" width="43.6" height="15.7" rx="1.2" fill="#0ba649"/>
<line x1="748.6" y1="192.2" x2="751.4" y2="192.2" stroke="#fff" stroke-width="0.9" opacity="0.85"/>
<text x="755" y="195.3" font-size="8.7" font-weight="bold" fill="#fff" textLength="32.8" lengthAdjust="spacingAndGlyphs">0.966000</text>
<rect x="748.6" y="224.4" width="43.6" height="23.1" rx="1.2" fill="#0ba649"/>
<line x1="748.6" y1="230.6" x2="751.4" y2="230.6" stroke="#fff" stroke-width="0.9" opacity="0.85"/>
<text x="755" y="233.7" font-size="8.7" font-weight="bold" fill="#fff" textLength="32.8" lengthAdjust="spacingAndGlyphs">0.958740</text>
<line x1="748.6" y1="242.2" x2="751.4" y2="242.2" stroke="#fff" stroke-width="0.9" opacity="0.85"/>
<text x="755" y="245.3" font-size="8.7" font-weight="bold" fill="#fff" textLength="32.8" lengthAdjust="spacingAndGlyphs">0.957049</text>
<rect x="748.6" y="269.6" width="43.6" height="11.8" rx="1.2" fill="#0ba649"/>
<line x1="748.6" y1="275.5" x2="751.4" y2="275.5" stroke="#fff" stroke-width="0.9" opacity="0.85"/>
<text x="755" y="278.6" font-size="8.7" font-weight="bold" fill="#fff" textLength="32.8" lengthAdjust="spacingAndGlyphs">0.950000</text>
<rect x="748.6" y="291.8" width="43.6" height="11.8" rx="1.2" fill="#0ba649"/>
<line x1="748.6" y1="297.7" x2="751.4" y2="297.7" stroke="#fff" stroke-width="0.9" opacity="0.85"/>
<text x="755" y="300.8" font-size="8.7" font-weight="bold" fill="#fff" textLength="32.8" lengthAdjust="spacingAndGlyphs">0.945760</text>
</g>
<g id="xaxis" font-size="8.8" fill="#5a5a5a" text-anchor="middle">
<line x1="101.8" y1="416.4" x2="101.8" y2="419.4" stroke="#444" stroke-width="1"/>
<text x="101.5" y="429" textLength="13.4" lengthAdjust="spacingAndGlyphs">Oct</text>
<line x1="209.7" y1="416.4" x2="209.7" y2="419.4" stroke="#444" stroke-width="1"/>
<text x="209.4" y="429" textLength="13.6" lengthAdjust="spacingAndGlyphs">Nov</text>
<line x1="312.8" y1="416.4" x2="312.8" y2="419.4" stroke="#444" stroke-width="1"/>
<text x="312.5" y="429" textLength="12.9" lengthAdjust="spacingAndGlyphs">Dec</text>
<line x1="425.7" y1="416.4" x2="425.7" y2="419.4" stroke="#444" stroke-width="1"/>
<text x="425.4" y="429" textLength="17.8" lengthAdjust="spacingAndGlyphs" font-weight="bold">2021</text>
<line x1="528.7" y1="416.4" x2="528.7" y2="419.4" stroke="#444" stroke-width="1"/>
<text x="528.4" y="429" textLength="12.9" lengthAdjust="spacingAndGlyphs">Feb</text>
<line x1="626.9" y1="416.4" x2="626.9" y2="419.4" stroke="#444" stroke-width="1"/>
<text x="626.6" y="429" textLength="13.3" lengthAdjust="spacingAndGlyphs">Mar</text>
<line x1="739.8" y1="416.4" x2="739.8" y2="419.4" stroke="#444" stroke-width="1"/>
<text x="739.5" y="429" textLength="12.8" lengthAdjust="spacingAndGlyphs">Apr</text>
</g>
</svg>
</body></html>
